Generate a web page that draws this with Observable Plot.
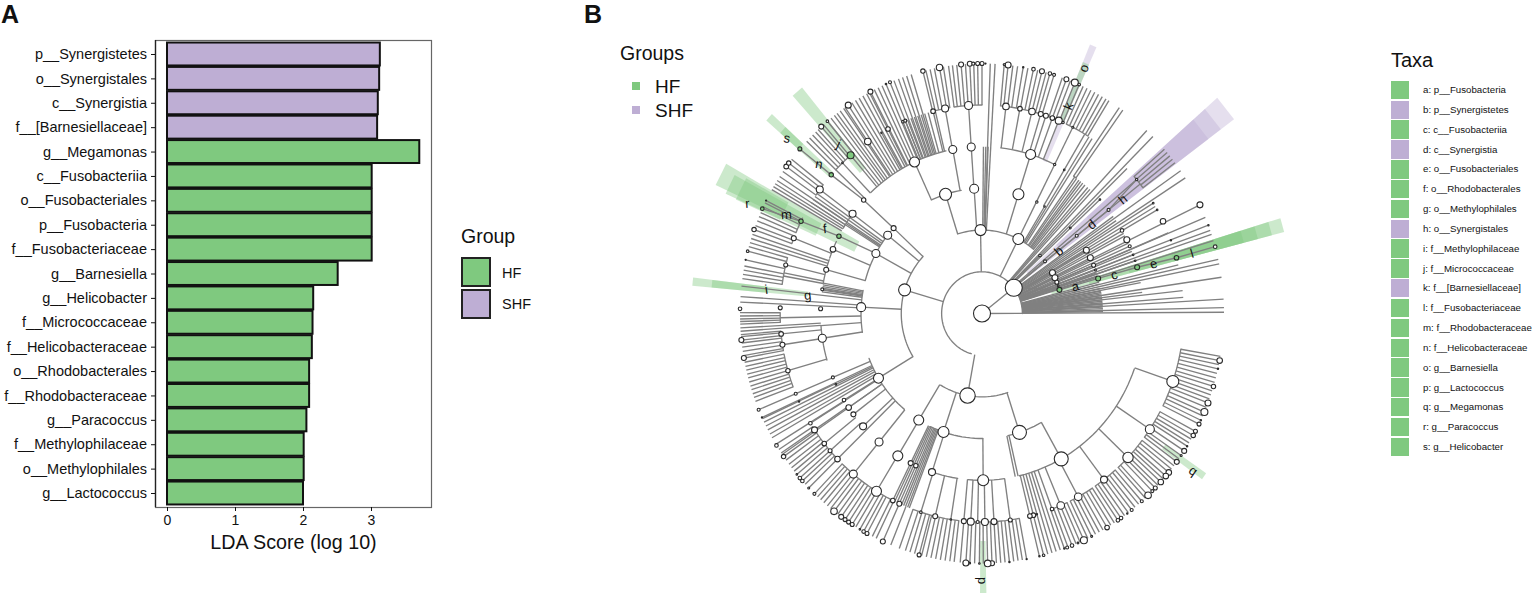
<!DOCTYPE html>
<html><head><meta charset="utf-8">
<script src="https://cdn.jsdelivr.net/npm/d3@7"></script>
<script src="https://cdn.jsdelivr.net/npm/@observablehq/plot@0.6"></script>
<style>
html,body{margin:0;padding:0;background:#fff;font-family:"Liberation Sans",Arial,sans-serif;color:#111}
#page{position:relative;width:1535px;height:598px;overflow:hidden}
#page svg{position:absolute;top:0;background:transparent}
.t{position:absolute;white-space:nowrap;line-height:1}
.sw{position:absolute}
</style></head><body><div id="page"></div>
<script>
const GREEN="#7FC97F", PURPLE="#BEAED4";
// ---- panel A
const taxa=["p__Synergistetes","o__Synergistales","c__Synergistia","f__[Barnesiellaceae]","g__Megamonas","c__Fusobacteriia","o__Fusobacteriales","p__Fusobacteria","f__Fusobacteriaceae","g__Barnesiella","g__Helicobacter","f__Micrococcaceae","f__Helicobacteraceae","o__Rhodobacterales","f__Rhodobacteraceae","g__Paracoccus","f__Methylophilaceae","o__Methylophilales","g__Lactococcus"];
const ldaScores=[3.13,3.12,3.10,3.09,3.71,3.01,3.01,3.01,3.01,2.51,2.15,2.14,2.13,2.09,2.09,2.05,2.01,2.01,2.00];
const taxaGroups=["SHF","SHF","SHF","SHF","HF","HF","HF","HF","HF","HF","HF","HF","HF","HF","HF","HF","HF","HF","HF"];
const xTicks=[0,1,2,3];
const groupNames=["HF","SHF"];
const groupColors=[GREEN,PURPLE];
// ---- panel B: radial depth of each taxonomic level
const levels=[0,41.7,83.4,125,166.8,208.5,250];
// arcs: [level, from angle, to angle] (degrees clockwise from north)
const arcs=[[1,195,450],[2,162,210],[2,238,314],[2,343,398.7],
[3,151.5,168],[3,179.6,204.5],[3,219,248.3],[3,261,281],[3,285.7,304],[3,304.5,312],[3,336,350.4],
[4,110,167],[4,172.3,184.9],[4,188.4,197.5],[4,253.3,265.7],[4,280.7,289.4],[4,290,296.3],[4,301.6,309],[4,317.4,347.5],[4,6.5,25.6],[4,33.7,34.7],
[5,100.2,117],[5,118.9,127.3],[5,128.4,138.5],[5,139.6,146.7],[5,147.7,154.8],[5,155.8,160.7],[5,169.7,185],[5,186.4,199.4],[5,205.2,222.9],[5,224.8,236.2],[5,248.8,258.4],[5,259.4,265],[5,267.5,270.2],[5,278.3,286],[5,290.2,292.4],[5,293.5,298],[5,305.5,309],[5,314.5,319.5],[5,347,351.1],[5,352.3,360],[5,5.1,16.8],[5,18.8,23],[5,24,30.8],[5,48,52]];
// branches: [from level, to level, angles]
const branches=[
[0,1,[51]],[0,6,[89.7]],
[1,2,[190,287,359,26,45,50.4,60,63.9,67.3,70]],
[1,3,[58.8,62.8,66.6,69,70.5,72,75,76,78,79.3,80,80.7,81.4,82.1,82.8,83.5,84.2,84.9,85.6,86.3,87,87.7,88.4,89.1]],
[1,4,[40,41,46,53.5,55.3,60.5,61.5,64.3,65.5,67.5,68.8,71,79,82.5]],
[1,5,[45,50.7,57.2,58.3,59.4,66.6,76.1,83.5,85.4,49.1]],
[1,6,[42,44,54.3,56.3,63.5,66.7,68.7,70,71,72.5,77.1,78.2,81.4,86.6,88.6]],
[2,3,[162.5,198,210.7,238,273,299.5,309.7,314,17,26,30.3,343,356.4]],
[2,4,[34.2,35,36,36.8,37.7,38.7]],[2,5,[31.2,32.2]],[2,4,[0.5,1.3,2.1]],[2,6,[1.9,3]],
[3,4,[151.4,167.5,168.5,179.6,197.5,210.6,218.7,226.5,231.9,234.8,237.9,244.1,246.8,261.2,265.7,285.7,293.3,303.5,307.6,336,349.9,356.3,17,26,29.8,277.7,278.3,279,279.6,280.2,280.8,278.6]],
[3,5,[200.5,201,201.6,202.2,202.8,203.5,204.2,204.9,205.5,268.8,303,304,305,306,224.8]],
[3,6,[237.6,234.8,239.4,240.4,241.5,242.5,243.5,244.7,276.5,274,272.7]],
[4,5,[109.6,124.6,134.6,143.7,152.3,157.7,160.3,172.2,176.7,179.2,181.2,183.1,185,188.6,193,197.1,210.7,218.7,227.9,230.5,235.2,237.4,264.2,261.1,253.6,283.9,280.7,281.6,291.8,307.4,314.5,317.2,320.3,326.4,330.9,333,337.6,338.3,339,340,341,342,343,344,345,346.4,347,349.8,356.3,6.6,10.5,13.9,16.4,17.9,19.8,21.7,26,29.8]],
[4,6,[161.7,162.7,163.7,164.7,165.7,166.7,246.7,244.4,265.8,266.6,287,288,289,300.5,301.3,302.1,303,304.1,321.2,322.3,323.3,324.1,325,326,327.3,328.3,329.3,330.3,331.3,332.3,333.3,334.3,335.3,336.3,337.3,338.3,339.3,340.4,341.4,342.4,343.5]],
[5,6,[100.2,101.2,102.2,103.2,104.3,105.4,106.5,107.5,108.6,109.6,110.6,111.6,112.7,113.9,114.9,116,117]],
[5,6,[118.9,120,121,122,122.9,124.2,125.5,126.4,127.3]],
[5,6,[128.4,129.4,130.4,131.5,132.4,133.3,134.3,135.2,136.2,137.6,138.5]],
[5,6,[139.6,140.6,141.7,142.7,143.7,144.8,145.8,146.7]],
[5,6,[147.7,148.7,149.7,150.8,151.8,152.8,153.8,154.8]],
[5,6,[155.8,156.8,157.8,158.8,159.8,160.7]],
[5,6,[169.7,170.7,171.7,172.7,173.7,174.7,175.7,176.7,177.7,178.7,179.7,180.6,181.7,182.8,183.7,185]],
[5,6,[186.4,187.4,188.5,189.6,190.7,191.8,192.9,194,194.6,195.7,196.8,197.9,199.4]],
[5,6,[201.5,203.5]],
[5,6,[205.2,206.2,207.6,208.5,209.5,210.6,211.6,212.6,213.6,214.7,215.7,216.8,217.8,218.8,219.9,220.9,221.9,222.9]],
[5,6,[224.8,226,227,227.9,229,230,231,232,233.2,234.2,235.2,236.2]],
[5,6,[248.8,249.8,250.7,251.7,252.6,253.6,254.6,255.5,256.5,257.4,258.4]],
[5,6,[259.4,260,261,262,263,263.7,264.5,265]],
[5,6,[267.5,268.1,268.7,269.4,270.2]],
[5,6,[278.3,279.3,280.3,281.3,282.8,284.9,286]],
[5,6,[290.2,291.2,292.4,293.5,294.5,296,297,297.6]],
[5,6,[305.5,306.9,307.9,309]],
[5,6,[314.5,315.5,316.5,317.5,318.3,319.3,320,321.2]],
[5,6,[326.4,333,346.3]],
[5,6,[347,348,349,350.2,351.1]],
[5,6,[352.3,353.2,354.2,355.2,356.2,357.2,358.1,359,360]],
[5,6,[5.1,6,7.1,8.2,9.5,10.6,11.9,12.9,13.9,14.9,15.8,16.8]],
[5,6,[18.8,19.8,20.8,21.9,23]],
[5,6,[24,25,26,27,28,29,30,30.8]],
[4,6,[33.7,34.7]],
[5,6,[48,49,50,51,52]]
];
// chains: biomarker lineages whose nodes drift in angle: [[angle, level], ...]
const chains=[
[[299.5,3],[298.4,4],[297,5],[295.5,6]],
[[314,3],[313.8,4],[312.6,5],[312.1,6]],
[[51,1],[50.4,2],[50.6,3],[50.7,4],[49.1,5]],
[[51,1],[73,2],[73.2,3],[73.4,4],[74,5],[74,6]]
];
// nodes: [angle, level, size]
const plainNodes=[[0,0,8.5],[51,1,8.5],
[359,2,5.5],[26,2,5.5],[190,2,7.7],[287,2,6],[45,2,1.3],[50.4,2,1.5],[60,2,3],[63.9,2,3],[67.3,2,2],[70,2,.9],
[162.5,3,7],[198,3,5.5],[210.7,3,5],[238,3,5],[273,3,4.5],[299.5,3,4],[309.7,3,4],[314,3,2.5],[17,3,5.5],[343,3,6],[356.4,3,4.5],[26.2,3,1.2],[30.3,3,.8],[45.9,3,.9],[50.6,3,1.5],[58.8,3,3],[62.8,3,3],[66.6,3,2],[69,3,1],
[151.4,4,7],[179.6,4,5.5],[197.5,4,3.5],[210.6,4,5],[218.7,4,4],[226.5,4,3.5],[231.9,4,2.5],[234.8,4,2.8],[237.9,4,1.8],[244.1,4,.8],[246.8,4,1.5],[261.2,4,4],[271.7,4,2],[278.6,4,1.5],[285.7,4,2.5],[293.3,4,2.8],[307.6,4,3.5],[313.8,4,2.2],[336,4,5],[349.9,4,4],[356.3,4,4],[17,4,5],[26,4,1.2],[29.8,4,.8],[46,4,.8],[50.7,4,1.5],[59.3,4,1.8],[63,4,3],[65.5,4,1.5],[68.8,4,.8],[71,4,.8],[205.5,4,2.5],[203.5,4,2.2],
[109.6,5,6],[124.6,5,4.5],[134.6,5,5.2],[143.7,5,3.5],[152.3,5,3.8],[157.7,5,3.8],[160.3,5,1.8],[165.7,5,2.3],[166.7,5,2.3],[164.7,5,.7],[172.2,5,2],[176.7,5,3],[179.2,5,3.5],[181.2,5,1.5],[183.1,5,3.5],[185,5,2.5],[188.6,5,.8],[193,5,2.5],[197.1,5,1.3],[203.5,5,2.5],[205.5,5,2.3],[210.7,5,5],[218.7,5,4],[224.8,5,2.8],[227.9,5,2],[230.5,5,2.3],[235.2,5,3],[237.4,5,1.8],[244.3,5,.7],[246.7,5,1.5],[253.6,5,2.2],[261.1,5,2.5],[264.2,5,2.3],[271.6,5,2],[283.9,5,2],[291.8,5,2.5],[307.4,5,3.5],[317.2,5,.8],[326.4,5,3.3],[330.9,5,.7],[333,5,2.3],[337.6,5,1.3],[338.3,5,1.5],[346.4,5,2.3],[349.8,5,3.5],[356.3,5,4],[6.6,5,3.3],[10.5,5,2.3],[13.9,5,3.3],[16.4,5,2.5],[17.9,5,2.5],[19.8,5,2.3],[21.7,5,3.5],[23,5,1.2],[26,5,1],[49.1,5,1.2],[57.2,5,.8],[59.4,5,.8],[63,5,2.8],[68.8,5,.7],
[101.2,6,2.8],[103.2,6,.7],[107.5,6,2.2],[111.6,6,3],[113.9,6,3.5],[116,6,.7],[117,6,2],[118.9,6,2],[120,6,2.2],[122.9,6,.7],[124.2,6,2.5],[125.5,6,1],[127.3,6,2.5],[130.4,6,2.8],[131.5,6,2.8],[133.3,6,2.8],[135.2,6,2],[136.2,6,1.5],[137.6,6,3.3],[139.6,6,1.5],[142.7,6,1.5],[144,6,.7],[145.8,6,1.8],[146.7,6,1.8],[149.7,6,2.3],[153.8,6,1],[155.8,6,3.5],[157.3,6,.9],[158.8,6,1.8],[160,6,1.5],[160.7,6,.7],[165.7,6,1.3],[166.7,6,.7],[169.7,6,.6],[173.7,6,.7],[177.7,6,2.5],[178.7,6,3.3],[180.6,6,.8],[182.8,6,.8],[183.7,6,3],[194.6,6,2],[203.5,6,2.5],[207.6,6,2],[208.5,6,1.8],[209.5,6,.8],[211.6,6,2],[212.6,6,2],[213.6,6,2],[214.7,6,2.5],[216.8,6,3.3],[222.9,6,1.5],[224.8,6,1],[227,6,1.8],[227.9,6,1.8],[229,6,.8],[234.2,6,2.2],[237.3,6,1.8],[244.7,6,.6],[246.7,6,1.5],[259.4,6,2.5],[263.7,6,2.5],[271.1,6,1.8],[282.8,6,.6],[284.9,6,1.3],[290.2,6,2.2],[297.6,6,.6],[306.9,6,2.4],[307.9,6,2.2],[319.3,6,2.5],[321.2,6,1.3],[327.3,6,3],[333.3,6,2.5],[337.3,6,.8],[338.3,6,1.5],[346.3,6,2.2],[350.2,6,3.2],[355.2,6,2.5],[357.2,6,2.5],[358,6,1.5],[359,6,2],[360,6,2],[.8,6,.6],[6,6,3],[5.1,6,1],[9.5,6,.7],[11.9,6,1.8],[13.9,6,2.5],[15.8,6,1.8],[16.8,6,1.5],[19.8,6,2.5],[21.9,6,3.5],[23,6,1.3],[63.5,6,3],[68.7,6,.7],[74,6,1.8]];
const greenNodes=[[73,2,2.5],[73.2,3,2.5],[73.4,4,2.5],[74,5,2.3],[298.4,4,2.2],[297,5,2.2],[295.5,6,1.8],[312.6,5,2.2],[312.1,6,2],[320.3,5,3.5]];
// shaded sectors: [from angle, to angle, inner radius, outer radius, group]
const wedges=[
[47.6,52.5,62,325,"SHF"],[47.6,52.5,103,308,"SHF"],[47.6,52.5,145,292,"SHF"],
[72.4,75,75,323,"HF"],[72.4,75,115,310,"HF"],[72.4,75,158,295,"HF"],[72.4,75,205,280,"HF"],
[295.7,300.3,145,303,"HF"],[295,299.2,188,290,"HF"],[294.8,299.8,228,278,"HF"],
[319,321.5,188,292,"HF"],[311.8,313.5,208,275,"HF"],[311.8,313.5,250,294,"HF"],
[275.4,277,180,280,"HF"],[275.4,277,222,300,"HF"],
[22,23.4,165,291,"SHF"],[22,23.4,208,272,"HF"],
[125.5,127,231,282,"HF"],[179,180.3,228,280,"HF"]];
// clade letters: [letter, angle, radius, rotation]
const cladeLetters=[["a",74,100,-16],["c",73.8,142,-16],["e",73.9,184,-16],["l",74.1,225,-16],["b",51,101,-39],["d",51,144,-39],["h",51,185,-39],["f",298.3,183,-6],["m",296.8,225,-4],["r",295.1,266,-4],["j",319.7,225,25],["n",312.5,225,10],["s",311.9,267,10],["i",276.3,224,-8],["g",275.9,181,-6],["k",22.7,226,-67],["o",22.6,267,-67],["p",180,267,90],["q",126.7,269,36]];
const taxaLegend=["a: p__Fusobacteria","b: p__Synergistetes","c: c__Fusobacteriia","d: c__Synergistia","e: o__Fusobacteriales","f: o__Rhodobacterales","g: o__Methylophilales","h: o__Synergistales","i: f__Methylophilaceae","j: f__Micrococcaceae","k: f__[Barnesiellaceae]","l: f__Fusobacteriaceae","m: f__Rhodobacteraceae","n: f__Helicobacteraceae","o: g__Barnesiella","p: g__Lactococcus","q: g__Megamonas","r: g__Paracoccus","s: g__Helicobacter"];
const taxaLegendGroups=["HF","SHF","HF","SHF","HF","HF","HF","SHF","HF","HF","SHF","HF","HF","HF","HF","HF","HF","HF","HF"];

// picture is slightly narrower than tall: levels lie on ellipses
const stretch=0.968;
function polar(theta,R){const t=theta*Math.PI/180,s=Math.sin(t),c=Math.cos(t),k=R/Math.hypot(s/stretch,c);return [k*s,-k*c];}
const FONT='"Liberation Sans",Arial,sans-serif';
const page=document.getElementById("page");

// ---- bar chart
const rows=taxa.map((t,i)=>({taxon:t,score:ldaScores[i],group:taxaGroups[i]}));
const barPlot=Plot.plot({width:540,height:598,marginLeft:155,marginRight:109,marginTop:40,marginBottom:91,
 style:{fontFamily:FONT,color:"#111",background:"transparent"},
 x:{domain:[-12/68,264/68]},
 y:{domain:taxa,paddingInner:0.06,paddingOuter:0.1035,round:false},
 color:{domain:groupNames,range:groupColors},
 marks:[
  Plot.barX(rows,{x1:0,x2:"score",y:"taxon",fill:"group",stroke:"#111",strokeWidth:2}),
  Plot.frame({stroke:"#666",strokeWidth:1.2}),
  Plot.ruleX([-12/68],{stroke:"#222",strokeWidth:1.3}),
  Plot.axisY({tickSize:4,tickPadding:4.5,fontSize:14.5,label:null,marginLeft:155,stroke:"#111"}),
  Plot.axisX({ticks:xTicks,tickFormat:"d",tickSize:4,tickPadding:4,fontSize:14,label:null,stroke:"#111"}),
  Plot.axisX({ticks:[],label:"LDA Score (log 10)",labelAnchor:"center",labelArrow:"none",labelOffset:41,fontSize:19.7,tickSize:0})
 ]});
barPlot.style.left="0px";
page.appendChild(barPlot);

// ---- cladogram
const cx=981.5, cy=313, svgLeft=530, svgW=900;
const spokes=branches.flatMap(([a,b,ang])=>ang.map(t=>{const p=polar(t,levels[a]),q=polar(t,levels[b]);return {x1:p[0],y1:p[1],x2:q[0],y2:q[1]};}));
const arcPts=arcs.flatMap(([l,a0,a1],i)=>{const n=Math.max(1,Math.ceil((a1-a0)/2));return d3.range(n+1).map(j=>{const p=polar(a0+(a1-a0)*j/n,levels[l]);return {id:i,x:p[0],y:p[1]};});});
const chainPts=chains.flatMap((c,i)=>c.map(([t,l])=>{const p=polar(t,levels[l]);return {id:i,x:p[0],y:p[1]};}));
const wedgeMarks=wedges.map(([a0,a1,r0,r1,g])=>{
 const pts=[a0,a1].map(t=>{const p=polar(t,r0),q=polar(t,r1);return {x1:p[0],y1:p[1],x2:q[0],y2:q[1]};});
 return Plot.area(pts,{x1:"x1",y1:"y1",x2:"x2",y2:"y2",fill:g==="HF"?GREEN:PURPLE,fillOpacity:0.4});
});
const nx=d=>polar(d[0],levels[d[1]])[0], ny=d=>polar(d[0],levels[d[1]])[1];
const LINE="#808080";
const clade=Plot.plot({width:svgW,height:598,margin:0,
 style:{fontFamily:FONT,background:"transparent"},
 x:{axis:null,domain:[svgLeft-cx,svgLeft+svgW-cx],range:[0,svgW]},
 y:{axis:null,domain:[-cy,598-cy],range:[0,598]},
 r:{type:"identity"},
 marks:[
  ...wedgeMarks,
  Plot.link(spokes,{x1:"x1",y1:"y1",x2:"x2",y2:"y2",stroke:LINE,strokeWidth:1.35}),
  Plot.line(arcPts,{x:"x",y:"y",z:"id",stroke:LINE,strokeWidth:1.35}),
  Plot.line(chainPts,{x:"x",y:"y",z:"id",stroke:LINE,strokeWidth:1.35}),
  Plot.dot(plainNodes,{x:nx,y:ny,r:d=>d[2],fill:"white",stroke:"#2a2a2a",strokeWidth:1.1,sort:null}),
  Plot.dot(greenNodes,{x:nx,y:ny,r:d=>d[2],fill:GREEN,stroke:"#2a2a2a",strokeWidth:1.1,sort:null}),
  Plot.text(cladeLetters,{x:d=>polar(d[1],d[2])[0],y:d=>polar(d[1],d[2])[1],text:d=>d[0],rotate:d=>d[3],fontSize:13,fill:"#111"})
 ]});
clade.style.left=svgLeft+"px";
page.appendChild(clade);

// ---- text and legends
function txt(s,x,y,size,extra){const e=document.createElement("div");e.className="t";e.textContent=s;e.style.left=x+"px";e.style.top=(y-size/2)+"px";e.style.fontSize=size+"px";if(extra)Object.assign(e.style,extra);page.appendChild(e);return e;}
function sw(x,y,w,h,c,extra){const e=document.createElement("div");e.className="sw";e.style.cssText+=`left:${x}px;top:${y}px;width:${w}px;height:${h}px;background:${c};box-sizing:border-box;`;if(extra)Object.assign(e.style,extra);page.appendChild(e);}
txt("A",1,14,25,{fontWeight:"bold"});
txt("B",584,14,25,{fontWeight:"bold"});
txt("Group",461,237,19.5);
groupNames.forEach((g,i)=>{sw(461,257+i*31.5,30,30,groupColors[i],{border:"2px solid #222"});txt(g,502,273+i*31,14.5);});
txt("Groups",620,54,19.5);
groupNames.forEach((g,i)=>{sw(632,82+i*24,8,8,groupColors[i]);txt(g,655,86+i*24,19);});
txt("Taxa",1391,60,20);
taxaLegend.forEach((s,i)=>{const y=90+i*19.83;sw(1391,y-9.2,18,18.4,taxaLegendGroups[i]==="HF"?GREEN:PURPLE);txt(s,1423,y,9.7);});
</script></body></html>
